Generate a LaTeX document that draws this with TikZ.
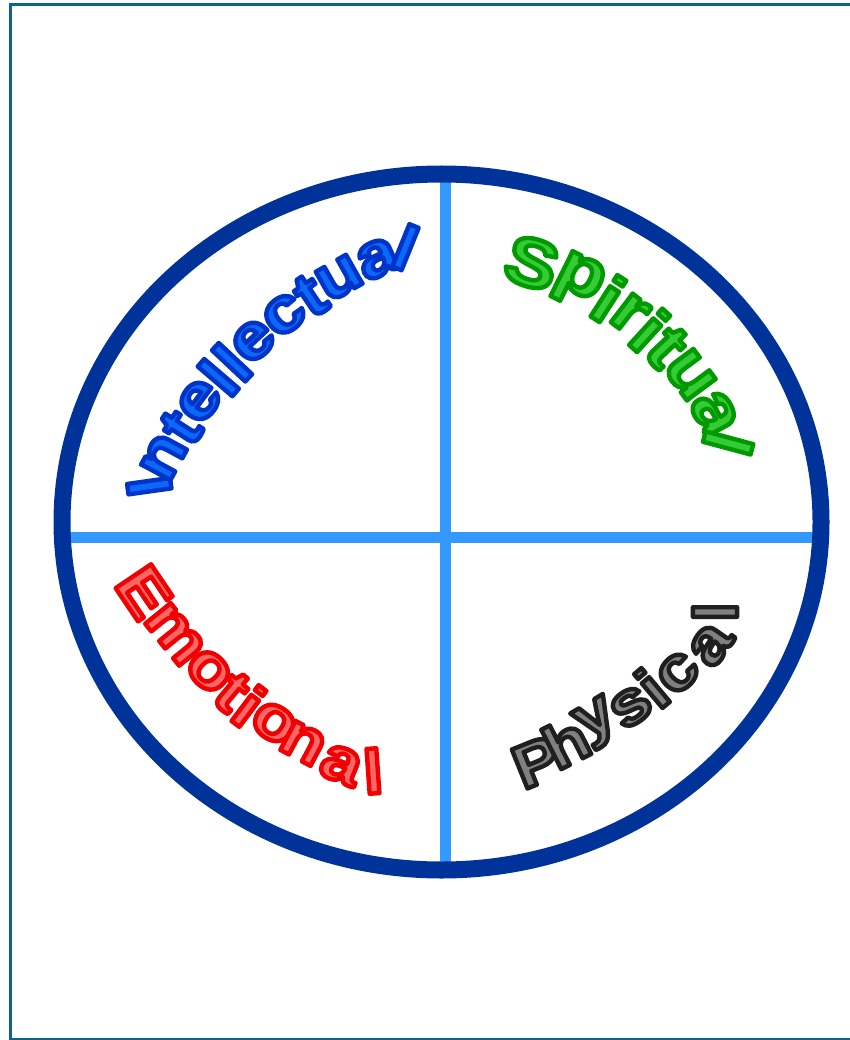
\documentclass[tikz,border=0pt]{standalone}
\usepackage{fontspec}
\usetikzlibrary{calc}
\newfontfamily\wafont[FakeStretch=1.15]{Liberation Sans Bold}

\definecolor{framecol}{RGB}{14,98,142}
\definecolor{ringcol}{RGB}{0,51,153}
\definecolor{crosscol}{RGB}{51,153,255}
\definecolor{intfill}{RGB}{10,104,250}
\definecolor{spifill}{RGB}{52,204,52}
\definecolor{emofill}{RGB}{255,102,102}
\definecolor{phyfill}{RGB}{128,128,128}

% glyph painted with fill and outline: #1 outline colour "r g b", #2 fill colour, #3 glyph
\newcommand\outlinedglyph[3]{{\color{#2}\special{pdf:literal #1 RG 2 Tr 4.4 w 1 j}#3\special{pdf:literal 0 Tr}}}

\tikzset{
  frameline/.style={draw=framecol, line width=3pt},
  ring/.style={draw=ringcol, line width=17pt},
  crossline/.style={draw=crosscol, line width=11pt},
  glyph/.style={inner sep=0pt, anchor=center},
  intword/.style={glyph, font={\wafont\fontsize{63}{66}\selectfont}},
  spiword/.style={glyph, font={\wafont\fontsize{68}{70}\selectfont}},
  emoword/.style={glyph, font={\wafont\fontsize{62}{64}\selectfont}},
  phyword/.style={glyph, font={\wafont\fontsize{61}{64}\selectfont}},
}

\begin{document}
\begin{tikzpicture}[x=1pt, y=-1pt]
  \useasboundingbox (0,0) rectangle (850,1040);

  % page frame
  \draw[frameline] (10,5) rectangle (853,1039.5);

  % cross dividing the ring into quarters
  \coordinate (vtop) at (445.5,176);
  \coordinate (vbot) at (445.5,868);
  \coordinate (hleft) at (62,537.5);
  \coordinate (hright) at (821,537.5);
  \draw[crossline] (vtop) -- (vbot);
  \draw[crossline] (hleft) -- (hright);

  % outer ring
  \coordinate (hub) at (441.5,522);
  \draw[ring] (hub) ellipse [x radius=379.5pt, y radius=348pt];

  % arc centres of the two upper words
  \coordinate (cint) at (563,673);
  \coordinate (cspi) at (440,560);

  % Intellectual
  \foreach \ch/\a/\r [count=\i] in {I/155.7/98, n/151.6/61.6, t/147.3/57.3,
      e/143.2/53.2, l/139.4/49.4, l/136.8/46.8, e/133.0/43, c/127.9/37.9,
      t/123.8/33.8, u/119.5/29.5, a/114.1/24.1, l/110.3/-22}
    \node[intword, rotate=\r] (int\i) at ($(cint)+(\a:454pt)$)
      {\outlinedglyph{0 0.2 0.78}{intfill}{\ch}};

  % Spiritual
  \foreach \ch/\a/\r [count=\i] in {S/72.8/-17.2, p/63.6/-26.4, i/57.2/-32.8,
      r/52.4/-37.6, i/47.6/-42.4, t/43.2/-46.8, u/36.5/-53.5, a/28.1/-61.9,
      l/22.1/-105}
    \node[spiword, rotate=\r] (spi\i) at ($(cspi)+(\a:311pt)$)
      {\outlinedglyph{0 0.6 0}{spifill}{\ch}};

  % Emotional
  \foreach \ch/\x/\y/\r [count=\i] in {E/144/592/-56, m/175/634/-51,
      o/209/671/-44, t/232/692/-40, i/249/706/-37, o/274/723/-33,
      n/303/743/-28, a/341/765/-22, l/373/771/4}
    \node[emoword, rotate=\r] (emo\i) at (\x,\y)
      {\outlinedglyph{0.94 0 0}{emofill}{\ch}};

  % Physical
  \foreach \ch/\x/\y/\r [count=\i] in {P/537/762/22, h/566/742/27, y/598/723/31,
      s/631/707/35, i/652/688/40, c/678/673/45, a/711/645/55, l/715/612/90}
    \node[phyword, rotate=\r] (phy\i) at (\x,\y)
      {\outlinedglyph{0.12 0.12 0.12}{phyfill}{\ch}};
\end{tikzpicture}
\end{document}
